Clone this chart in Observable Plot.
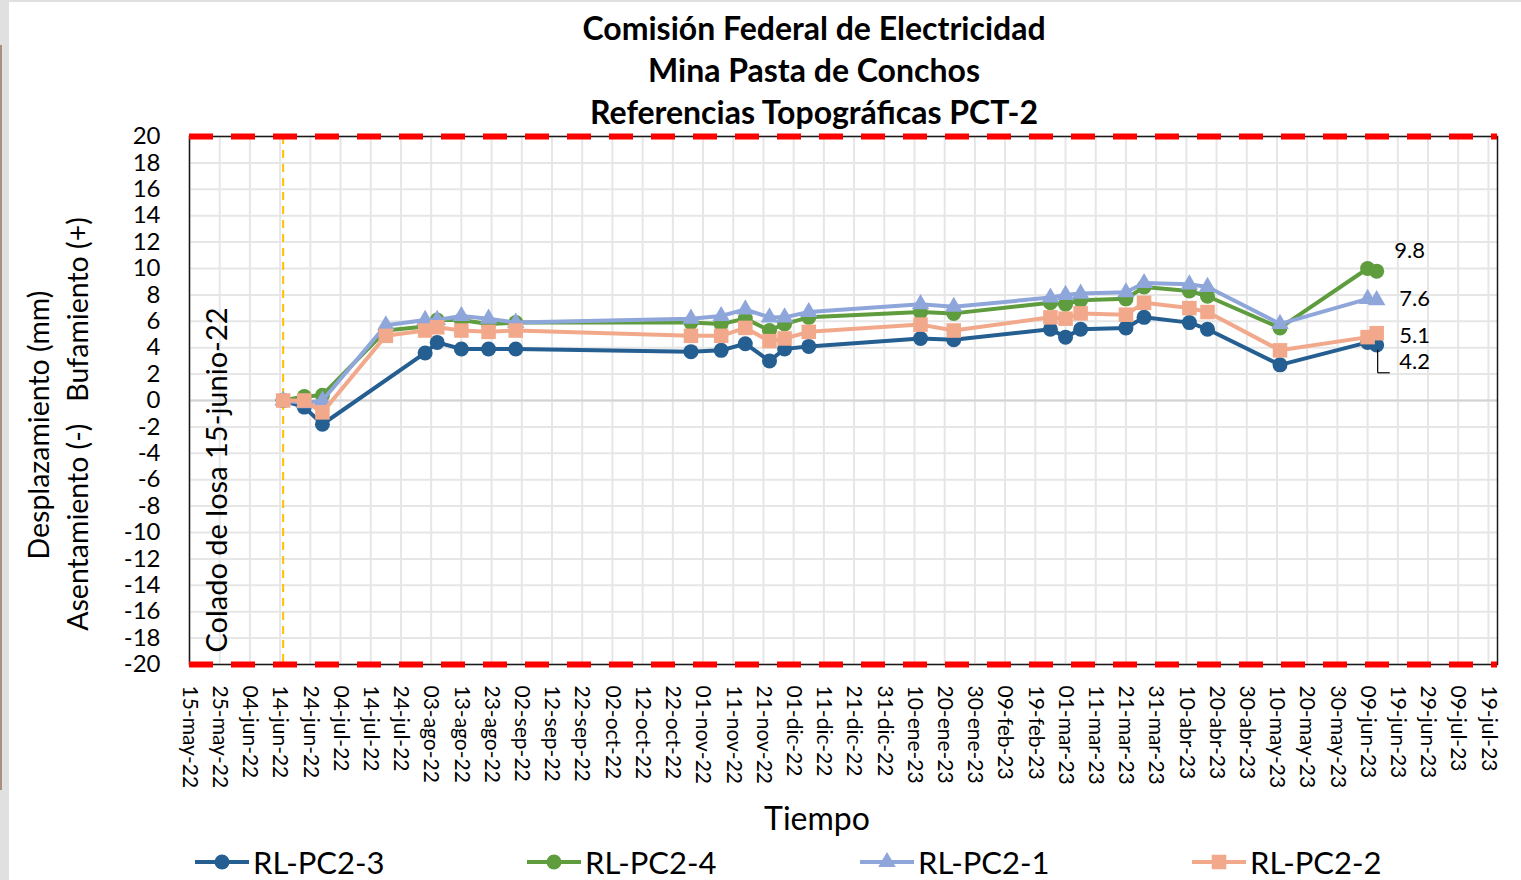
<!DOCTYPE html>
<html>
<head>
<meta charset="utf-8">
<script src="https://cdn.jsdelivr.net/npm/d3@7"></script>
<script src="https://cdn.jsdelivr.net/npm/@observablehq/plot@0.6"></script>
<style>
  html, body { margin:0; padding:0; background:#fff; }
  #wrap { position:relative; width:1521px; height:880px; background:#fff; overflow:hidden; font-family: Lato, "Open Sans", sans-serif; color:#000; }
  .strip1 { position:absolute; left:0; top:0; width:9px; height:880px; background:#e0e0e0; }
  .strip2 { position:absolute; left:0; top:0; width:1521px; height:2px; background:#e0e0e0; }
  .strip3 { position:absolute; left:0; top:45px; width:2px; height:745px; background:#a89080; }
  .title { position:absolute; left:0; width:1628px; text-align:center; font-weight:700; font-size:32px; line-height:42px; }
  .rot { position:absolute; white-space:pre; transform:translate(-50%,-50%) rotate(-90deg); font-size:28.5px; line-height:28px; }
  #chart { position:absolute; left:0; top:120px; }
  #chart svg g[aria-label="y-axis"] text, #chart svg g[aria-label="y-axis tick label"] text { font-size:24px; }
  #chart svg g[aria-label="x-axis"] text, #chart svg g[aria-label="x-axis tick label"] text { font-size:21px; }
  .xt { position:absolute; left:817px; top:817px; transform:translate(-50%,-50%); font-size:32px; }
  .leg { position:absolute; top:862px; transform:translateY(-50%); display:flex; align-items:center; font-size:31px; }
  .leg svg { margin-right:4px; }
</style>
</head>
<body>
<div id="wrap">
  <div class="strip1"></div><div class="strip2"></div><div class="strip3"></div>
  <div class="title" style="top:7px">Comisión Federal de Electricidad</div>
  <div class="title" style="top:49px">Mina Pasta de Conchos</div>
  <div class="title" style="top:91px">Referencias Topográficas PCT-2</div>
  <div class="rot" style="left:38px; top:425px;">Desplazamiento (mm)</div>
  <div class="rot" style="left:77px; top:424px;">Asentamiento (-)   Bufamiento (+)</div>
  <div id="chart"></div>
  <div class="rot" style="left:216px; top:480px; font-size:29px;">Colado de losa 15-junio-22</div>
  <div class="xt">Tiempo</div>
  <div id="legend"></div>
</div>
<script>
// ---- data ----
const dates = ["2022-06-15","2022-06-22","2022-06-28","2022-07-19","2022-08-01","2022-08-05","2022-08-13","2022-08-22","2022-08-31",
  "2022-10-28","2022-11-07","2022-11-15","2022-11-23","2022-11-28","2022-12-06","2023-01-12","2023-01-23","2023-02-24",
  "2023-03-01","2023-03-06","2023-03-21","2023-03-27","2023-04-11","2023-04-17","2023-05-11","2023-06-09","2023-06-12"];
const rlpc2_3 = [0, -0.5, -1.8, null, 3.6, 4.4, 3.9, 3.9, 3.9, 3.7, 3.8, 4.3, 3.0, 3.9, 4.1, 4.7, 4.6, 5.4, 4.8, 5.4, 5.5, 6.3, 5.9, 5.4, 2.7, 4.4, 4.2];
const rlpc2_4 = [0, 0.3, 0.4, 5.3, 5.6, 6.1, 6.1, 5.8, 5.9, 5.9, 5.8, 6.2, 5.3, 5.8, 6.3, 6.7, 6.6, 7.4, 7.3, 7.6, 7.7, 8.6, 8.3, 7.9, 5.5, 10.0, 9.8];
const rlpc2_1 = [0, -0.2, 0, 5.7, 6.1, 6.1, 6.4, 6.2, 5.9, 6.2, 6.4, 6.9, 6.3, 6.3, 6.7, 7.3, 7.1, 7.8, 8.0, 8.1, 8.2, 8.9, 8.8, 8.6, 5.8, 7.7, 7.6];
const rlpc2_2 = [0, 0, -0.9, 4.9, 5.3, 5.55, 5.3, 5.2, 5.3, 4.9, 4.9, 5.5, 4.5, 4.7, 5.2, 5.75, 5.3, 6.3, 6.2, 6.6, 6.5, 7.4, 7.0, 6.7, 3.8, 4.8, 5.1];
const seriesNames = ["RL-PC2-3","RL-PC2-4","RL-PC2-1","RL-PC2-2"];
const seriesValues = [rlpc2_3, rlpc2_4, rlpc2_1, rlpc2_2];
const seriesColors = ["#255e91","#5e9c3e","#8fa6da","#f2a98b"];
const seriesSymbols = ["circle","circle","triangle","square"];
const seriesR = [7.5, 7.5, 6.5, 8.2];
const endLabels = ["4.2","9.8","7.6","5.1"];
const yTicks = [20,18,16,14,12,10,8,6,4,2,0,-2,-4,-6,-8,-10,-12,-14,-16,-18,-20];
const xStart = "2022-05-15", xEnd = "2023-07-22", xTickStep = 10;
const limits = [20, -20];
const coladoDate = "2022-06-15";
const monthsEs = ["ene","feb","mar","abr","may","jun","jul","ago","sep","oct","nov","dic"];

// ---- build ----
const parse = s => new Date(s + "T00:00:00Z");
const table = [];
seriesNames.forEach((name, i) => {
  seriesValues[i].forEach((v, j) => {
    if (v !== null) table.push({series: name, idx: i, date: parse(dates[j]), value: v});
  });
});
const xTicks = d3.utcDay.range(parse(xStart), d3.utcDay.offset(parse(xEnd), 1), xTickStep);
const fmt = d => String(d.getUTCDate()).padStart(2,"0") + "-" + monthsEs[d.getUTCMonth()] + "-" + String(d.getUTCFullYear()).slice(2);

const lastPts = seriesNames.map((name, i) => {
  const pts = table.filter(d => d.series === name);
  return {...pts[pts.length - 1], label: endLabels[i]};
});
const labelOffsets = {"RL-PC2-3": [38, 17], "RL-PC2-4": [33, -20], "RL-PC2-1": [38, -1], "RL-PC2-2": [38, 3]};
const blueLast = lastPts[0];
const leaderY = 2.1;

const marks = [
  Plot.gridX(xTicks, {stroke: "#e6e6e6", strokeOpacity: 1, strokeWidth: 2}),
  Plot.gridY(yTicks, {stroke: "#e6e6e6", strokeOpacity: 1, strokeWidth: 2}),
  Plot.ruleY([0], {stroke: "#d4d4d4", strokeWidth: 2}),
  Plot.ruleX([parse(coladoDate)], {stroke: "#ffc000", strokeWidth: 2, strokeDasharray: "8,6"}),
  Plot.frame({stroke: "#1a1a1a", strokeWidth: 1.5})
];
seriesNames.forEach((name, i) => {
  const data = table.filter(d => d.series === name);
  marks.push(Plot.line(data, {x: "date", y: "value", stroke: seriesColors[i], strokeWidth: 4, strokeLinejoin: "round"}));
  marks.push(Plot.dot(data, {x: "date", y: "value", fill: seriesColors[i], stroke: "none", symbol: seriesSymbols[i], r: seriesR[i]}));
});
marks.push(Plot.ruleY(limits, {stroke: "#ff0000", strokeWidth: 6, strokeDasharray: "24,18"}));
// leader line for 4.2
marks.push(Plot.link([blueLast], {x1: "date", x2: "date", y1: d => d.value - 0.35, y2: () => leaderY, stroke: "#000", strokeWidth: 1.2, dx: 1}));
marks.push(Plot.link([blueLast], {x1: "date", x2: d => d3.utcDay.offset(d.date, 4), y1: () => leaderY, y2: () => leaderY, stroke: "#000", strokeWidth: 1.2, dx: 1}));
lastPts.forEach(p => {
  const [dx, dy] = labelOffsets[p.series];
  marks.push(Plot.text([p], {x: "date", y: "value", text: "label", dx, dy, fontSize: 22, textAnchor: "middle", fill: "#000"}));
});

const plot = Plot.plot({
  width: 1521,
  height: 700,
  marginTop: 16,
  marginBottom: 156,
  marginLeft: 189,
  marginRight: 24,
  style: {fontFamily: "Lato, 'Open Sans', sans-serif", color: "#000", background: "transparent", overflow: "visible"},
  x: {type: "utc", domain: [parse(xStart), parse(xEnd)], ticks: xTicks, tickFormat: fmt, tickRotate: 90, tickSize: 0, tickPadding: 21, label: null},
  y: {domain: [-20, 20], ticks: yTicks, tickFormat: d => String(d), tickSize: 0, tickPadding: 29, label: null},
  marks
});
document.getElementById("chart").appendChild(plot);

// ---- legend ----
const legend = document.getElementById("legend");
const legX = [195, 527, 860, 1192];
seriesNames.forEach((name, i) => {
  const item = document.createElement("div");
  item.className = "leg";
  item.style.left = legX[i] + "px";
  const sw = d3.create("svg").attr("width", 54).attr("height", 20);
  sw.append("line").attr("x1", 0).attr("x2", 54).attr("y1", 10).attr("y2", 10).attr("stroke", seriesColors[i]).attr("stroke-width", 4);
  sw.append("path").attr("transform", "translate(27,10)")
    .attr("d", d3.symbol(seriesSymbols[i] === "circle" ? d3.symbolCircle : seriesSymbols[i] === "triangle" ? d3.symbolTriangle : d3.symbolSquare, Math.PI * seriesR[i] * seriesR[i])())
    .attr("fill", seriesColors[i]);
  item.appendChild(sw.node());
  const t = document.createElement("span");
  t.textContent = name;
  item.appendChild(t);
  legend.appendChild(item);
});
</script>
</body>
</html>
